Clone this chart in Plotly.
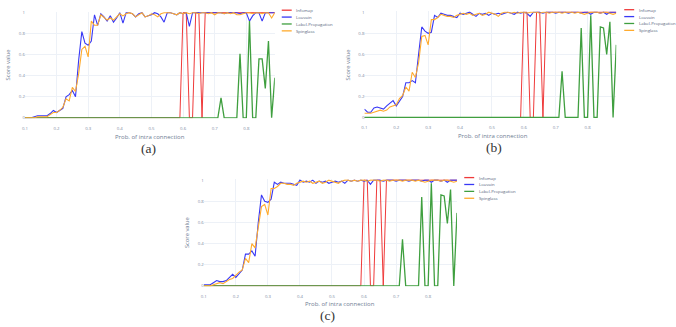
import plotly.graph_objects as go

x_vals = [round(0.10 + 0.01 * i, 2) for i in range(80)]
series_names = ["Infomap", "Louvain", "Label-Propagation", "Spinglass"]
series_colors = ["#ef3a3a", "#3838f5", "#3f9f3f", "#ffab2e"]
series_widths = [1.0, 1.1, 1.3, 1.1]

# ---------- panel (a) ----------
a_infomap = [0] * 50 + [1, 1, 0, 0, 1, 1, 0] + [1] * 23
a_louvain = [0.00, 0.00, 0.00, 0.01, 0.02, 0.02, 0.02, 0.02, 0.04, 0.07,
             0.05, 0.07, 0.09, 0.20, 0.22, 0.26, 0.20, 0.55, 0.82, 0.71,
             0.69, 0.73, 0.98, 0.88, 0.99, 0.96, 0.92, 0.97, 0.91, 0.95,
             1.00, 0.90, 1.00, 1.00, 0.99, 0.96, 0.99, 1.00, 0.96, 0.97,
             0.98, 1.00, 0.99, 0.96, 0.91, 1.00, 1.00, 0.99, 0.98, 1.00,
             0.99, 1.00, 0.87, 1.00, 1.00, 1.00, 1.00, 1.00, 1.00, 1.00,
             1.00, 1.00, 1.00, 0.99, 1.00, 1.00, 1.00, 1.00, 0.99, 1.00,
             1.00, 0.92, 0.97, 1.00, 1.00, 0.92, 1.00, 1.00, 1.00, 1.00]
a_labelprop = [0] * 62 + [0.19, 0, 0, 0, 0, 0, 0.61, 0, 0, 0.92, 0, 0,
                          0.56, 0.56, 0.28, 0.73, 0, 0.38]
a_spinglass = [0.00, 0.00, 0.00, 0.00, 0.01, 0.01, 0.01, 0.01, 0.03, 0.05,
               0.05, 0.07, 0.10, 0.18, 0.16, 0.29, 0.25, 0.42, 0.65, 0.68,
               0.58, 0.92, 0.88, 0.88, 0.98, 0.95, 0.93, 0.95, 0.93, 0.96,
               0.99, 0.97, 0.99, 1.00, 0.99, 0.96, 0.98, 1.00, 0.96, 0.97,
               0.99, 0.98, 0.96, 0.99, 1.00, 1.00, 1.00, 0.99, 0.98, 1.00,
               0.99, 1.00, 0.99, 1.00, 1.00, 0.99, 1.00, 1.00, 0.99, 1.00,
               0.98, 1.00, 1.00, 0.99, 1.00, 0.99, 1.00, 0.98, 0.98, 0.99,
               1.00, 1.00, 0.99, 1.00, 1.00, 0.99, 1.00, 1.00, 0.95, 1.00]

# ---------- panel (b) ----------
b_infomap = [0] * 50 + [1, 1, 0, 0, 1, 1, 0] + [1] * 23
b_louvain = [0.08, 0.05, 0.05, 0.09, 0.10, 0.09, 0.08, 0.11, 0.14, 0.16,
             0.11, 0.16, 0.20, 0.33, 0.33, 0.35, 0.33, 0.60, 0.86, 0.82,
             0.80, 0.81, 0.97, 0.95, 0.99, 0.98, 0.97, 0.97, 0.96, 0.95,
             0.99, 0.98, 0.99, 1.00, 0.98, 0.96, 0.99, 0.98, 0.99, 0.97,
             0.99, 0.98, 0.99, 0.98, 0.99, 1.00, 0.99, 0.98, 1.00, 0.99,
             1.00, 0.99, 0.96, 1.00, 1.00, 1.00, 0.99, 1.00, 1.00, 1.00,
             0.99, 1.00, 1.00, 1.00, 0.99, 1.00, 1.00, 1.00, 0.99, 1.00,
             1.00, 0.98, 1.00, 1.00, 0.99, 1.00, 0.98, 1.00, 1.00, 1.00]
b_labelprop = [0] * 62 + [0.44, 0, 0, 0, 0, 0, 0.85, 0, 0, 0.97, 0, 0,
                          0.86, 0.85, 0.60, 0.91, 0, 0.69]
b_spinglass = [0.04, 0.04, 0.04, 0.05, 0.06, 0.07, 0.06, 0.07, 0.10, 0.11,
               0.12, 0.18, 0.21, 0.29, 0.25, 0.43, 0.38, 0.52, 0.77, 0.78,
               0.69, 0.93, 0.93, 0.95, 0.98, 0.97, 0.96, 0.96, 0.95, 0.97,
               0.98, 0.99, 0.98, 0.99, 0.97, 0.98, 0.99, 0.97, 0.98, 1.00,
               0.99, 0.98, 0.96, 0.99, 1.00, 1.00, 0.99, 1.00, 0.99, 1.00,
               1.00, 0.99, 1.00, 1.00, 1.00, 0.99, 1.00, 1.00, 0.99, 1.00,
               1.00, 1.00, 0.99, 1.00, 1.00, 1.00, 0.99, 1.00, 0.99, 0.98,
               0.99, 1.00, 1.00, 1.00, 0.99, 1.00, 1.00, 0.99, 0.98, 0.99]

# ---------- panel (c) ----------
c_infomap = [0] * 50 + [1, 1, 0, 0, 1, 1, 0] + [1] * 23
c_louvain = [0.01, 0.01, 0.01, 0.03, 0.05, 0.04, 0.04, 0.05, 0.08, 0.11,
             0.08, 0.12, 0.15, 0.30, 0.30, 0.33, 0.28, 0.60, 0.86, 0.80,
             0.79, 0.82, 0.98, 0.96, 0.98, 0.97, 0.97, 0.97, 0.96, 0.95,
             1.00, 0.98, 0.99, 0.98, 1.00, 0.97, 0.99, 0.98, 0.99, 0.97,
             0.98, 0.99, 0.98, 0.99, 0.97, 1.00, 0.99, 1.00, 0.99, 1.00,
             0.99, 1.00, 0.96, 1.00, 1.00, 1.00, 0.99, 1.00, 1.00, 1.00,
             0.99, 1.00, 1.00, 1.00, 0.99, 1.00, 1.00, 1.00, 0.99, 1.00,
             1.00, 0.98, 1.00, 1.00, 0.99, 1.00, 0.98, 1.00, 1.00, 1.00]
c_labelprop = [0] * 62 + [0.44, 0, 0, 0, 0, 0, 0.84, 0, 0, 0.97, 0, 0,
                          0.86, 0.85, 0.59, 0.91, 0, 0.69]
c_spinglass = [0.00, 0.00, 0.00, 0.01, 0.02, 0.03, 0.02, 0.04, 0.06, 0.07,
               0.10, 0.13, 0.15, 0.26, 0.22, 0.40, 0.36, 0.55, 0.75, 0.77,
               0.67, 0.92, 0.92, 0.94, 0.97, 0.97, 0.96, 0.96, 0.95, 0.97,
               0.98, 0.99, 0.98, 0.99, 0.97, 0.98, 0.99, 0.97, 0.98, 1.00,
               0.99, 0.98, 0.97, 0.99, 1.00, 1.00, 0.99, 1.00, 0.99, 1.00,
               1.00, 0.99, 1.00, 1.00, 1.00, 0.99, 1.00, 1.00, 0.99, 1.00,
               1.00, 1.00, 0.99, 1.00, 1.00, 1.00, 0.99, 1.00, 0.99, 0.98,
               0.99, 1.00, 1.00, 1.00, 0.99, 1.00, 1.00, 0.99, 0.98, 0.99]

x_ticks = [0.1, 0.2, 0.3, 0.4, 0.5, 0.6, 0.7, 0.8]
x_tick_text = ["0.1", "0.2", "0.3", "0.4", "0.5", "0.6", "0.7", "0.8"]
y_ticks = [0, 0.2, 0.4, 0.6, 0.8, 1]
y_tick_text = ["0", "0.2", "0.4", "0.6", "0.8", "1"]
captions = ["(a)", "(b)", "(c)"]
x_title = "Prob. of intra connection"
y_title = "Score value"

panels = [
    [a_infomap, a_louvain, a_labelprop, a_spinglass],
    [b_infomap, b_louvain, b_labelprop, b_spinglass],
    [c_infomap, c_louvain, c_labelprop, c_spinglass],
]

W, H = 676, 327
# pixel boxes of each plot area: (left, right, top, bottom)
boxes = [(22, 273, 9, 117), (363, 616, 8.5, 116.7), (201.7, 456, 179, 287.7)]
legend_pos = [(280, 7.3), (624, 6.8), (463.3, 177.3)]
caption_pos = [(146, 148), (493, 147), (326, 317)]
xtitle_pos = [(148, 136), (492, 135.5), (338, 306)]
ytitle_pos = [(5.5, 63), (347, 63), (185.5, 233)]

fig = go.Figure()
for p, (series, box) in enumerate(zip(panels, boxes)):
    suffix = "" if p == 0 else str(p + 1)
    for name, color, width, yv in zip(series_names, series_colors, series_widths, series):
        fig.add_trace(go.Scatter(
            x=x_vals, y=yv, mode="lines", name=name,
            line=dict(color=color, width=width),
            xaxis="x" + suffix, yaxis="y" + suffix, showlegend=False,
        ))
    l, r, t, b = box
    axis_common = dict(showgrid=True, gridcolor="#EDF1F7", gridwidth=0.6,
                       zeroline=False, showline=False, ticks="",
                       tickfont=dict(size=4.3, color="#7d8aa0", family="Open Sans"))
    fig.layout["xaxis" + suffix] = dict(
        domain=[l / W, r / W], anchor="y" + suffix, range=[0.1, 0.89],
        tickvals=x_ticks, ticktext=x_tick_text, ticklabelstandoff=6, **axis_common)
    fig.layout["yaxis" + suffix] = dict(
        domain=[1 - b / H, 1 - t / H], anchor="x" + suffix, range=[-0.004, 1.008],
        tickvals=y_ticks, ticktext=y_tick_text, ticklabelstandoff=-1, **axis_common)

annotations = []
shapes = []
for p in range(3):
    lx, ly = legend_pos[p]
    for k, (name, color) in enumerate(zip(series_names, series_colors)):
        yy = ly + k * 7.0
        shapes.append(dict(type="line", xref="paper", yref="paper",
                           x0=lx / W, x1=(lx + 10) / W, y0=1 - yy / H, y1=1 - yy / H,
                           line=dict(color=color, width=1.3)))
        annotations.append(dict(text=name, xref="paper", yref="paper",
                                x=(lx + 12.5) / W, y=1 - yy / H, xanchor="left", yanchor="middle",
                                showarrow=False, font=dict(size=4.3, color="#56657d", family="Open Sans")))
    cx, cy = caption_pos[p]
    annotations.append(dict(text=captions[p], xref="paper", yref="paper", x=cx / W, y=1 - cy / H,
                            xanchor="center", yanchor="middle", showarrow=False,
                            font=dict(size=13.5, color="#333333", family="Liberation Serif")))
    tx, ty = xtitle_pos[p]
    annotations.append(dict(text=x_title, xref="paper", yref="paper", x=tx / W, y=1 - ty / H,
                            xanchor="center", yanchor="middle", showarrow=False,
                            font=dict(size=6.0, color="#6f7d93", family="Open Sans")))
    vx, vy = ytitle_pos[p]
    annotations.append(dict(text=y_title, xref="paper", yref="paper", x=vx / W, y=1 - vy / H,
                            xanchor="center", yanchor="middle", showarrow=False, textangle=-90,
                            font=dict(size=5.8, color="#6f7d93", family="Open Sans")))

fig.update_layout(
    width=W, height=H, margin=dict(l=0, r=0, t=0, b=0),
    paper_bgcolor="white", plot_bgcolor="white",
    showlegend=False, annotations=annotations, shapes=shapes,
)
fig.write_html(
    "out.html",
    config={"displayModeBar": False},
    post_script="document.body.style.margin='0px';document.body.style.overflow='hidden';",
)
